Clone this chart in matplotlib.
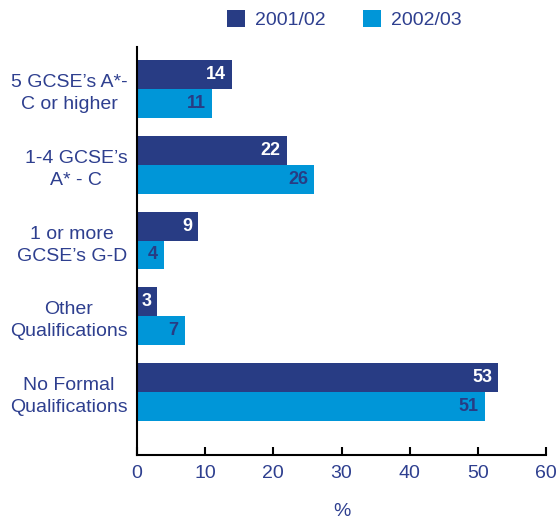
import matplotlib.pyplot as plt
import numpy as np

plt.rcParams['font.family'] = ['Liberation Sans', 'DejaVu Sans']

categories = ['5 GCSE\u2019s A*-\nC or higher', '1-4 GCSE\u2019s\nA* - C',
              '1 or more\nGCSE\u2019s G-D', 'Other\nQualifications',
              'No Formal\nQualifications']
series_names = ['2001/02', '2002/03']
vals_0102 = [14, 22, 9, 3, 53]
vals_0203 = [11, 26, 4, 7, 51]

dark = '#283c84'
light = '#0096d8'
txt = '#2e3f8f'

fig = plt.figure(figsize=(5.57, 5.2), dpi=100)
ax = fig.add_axes([137/557, 1-455/520, 409/557, 408/520])

y = np.arange(len(categories))
h = 0.38
b1 = ax.barh(y - h/2, vals_0102, height=h, color=dark, label=series_names[0])
b2 = ax.barh(y + h/2, vals_0203, height=h, color=light, label=series_names[1])

# value labels sit inside the bar ends
for bar, v in zip(b1, vals_0102):
    ax.text(v - 0.9, bar.get_y() + bar.get_height()/2, str(v), ha='right',
            va='center', color='white', fontsize=13, fontweight='bold')
for bar, v in zip(b2, vals_0203):
    ax.text(v - 0.9, bar.get_y() + bar.get_height()/2, str(v), ha='right',
            va='center', color=dark, fontsize=13, fontweight='bold')

ax.set_xlim(0, 60)
ax.set_ylim(4.83, -0.553)
ax.set_xticks(range(0, 61, 10))
ax.set_yticks(y)
ax.set_yticklabels(categories, multialignment='center', linespacing=1.4)
ax.tick_params(axis='y', length=0, pad=7, labelsize=14, labelcolor=txt)
ax.tick_params(axis='x', direction='in', length=6, width=1.5, pad=7,
               labelsize=14, labelcolor=txt)
for s in ['top', 'right']:
    ax.spines[s].set_visible(False)
for s in ['left', 'bottom']:
    ax.spines[s].set_linewidth(1.5)
ax.set_xlabel('%', fontsize=14, color=txt, labelpad=15)

ax.legend(loc='lower left', bbox_to_anchor=(227/557, 1-29/520),
          bbox_transform=fig.transFigure, ncol=2, frameon=False,
          fontsize=14, handlelength=0.95, handleheight=0.95,
          columnspacing=1.9, handletextpad=0.5, labelcolor=txt,
          borderaxespad=0, borderpad=0)

fig.savefig('out.png', dpi=100)
